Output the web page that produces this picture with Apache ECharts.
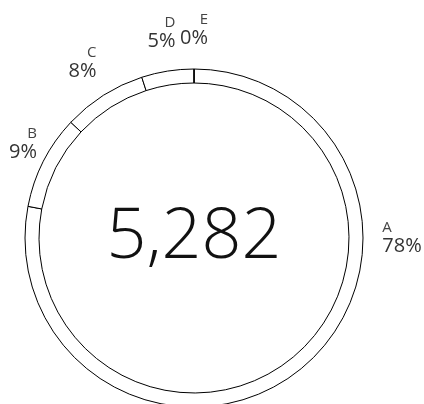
<!DOCTYPE html>
<html>
<head>
<meta charset="utf-8">
<style>
  html, body { margin: 0; padding: 0; background: #fff; }
  #chart { width: 424px; height: 404px; }
</style>
<script src="https://cdn.jsdelivr.net/npm/echarts@6/dist/echarts.min.js"></script>
</head>
<body>
<div id="chart"></div>
<script>
// Share of the total per category (percent)
const categories = ['A', 'B', 'C', 'D', 'E'];
const shares = [78, 9, 8, 5, 0];
const total = 5282;

// Ring geometry
const CX = 194, CY = 238;
const R_IN = 155, R_OUT = 169;
const LABEL_R = 208;
const VIEW_W = 424, EDGE_L = 9, EDGE_R = 2;

const shareSum = shares.reduce((a, b) => a + b, 0);

// Mid-angle of a slice, clockwise from 12 o'clock, in radians
function midAngle(i) {
  let before = 0;
  for (let k = 0; k < i; k++) before += shares[k];
  return (before + shares[i] / 2) / shareSum * Math.PI * 2;
}

const chart = echarts.init(document.getElementById('chart'), null, { renderer: 'canvas' });

chart.setOption({
  animation: false,
  backgroundColor: '#ffffff',
  textStyle: { fontFamily: '"Open Sans", "DejaVu Sans", sans-serif' },
  graphic: [{
    type: 'text',
    x: CX,
    y: CY,
    silent: true,
    style: {
      text: total.toLocaleString('en-US'),
      align: 'center',
      verticalAlign: 'middle',
      fontFamily: '"Open Sans", sans-serif',
      fontWeight: 300,
      fontSize: 70,
      fill: '#111111'
    }
  }],
  series: [{
    type: 'pie',
    center: [CX, CY],
    radius: [R_IN, R_OUT],
    startAngle: 90,
    clockwise: true,
    avoidLabelOverlap: false,
    stillShowZeroSum: true,
    emphasis: { disabled: true },
    itemStyle: { color: '#ffffff', borderColor: '#000000', borderWidth: 1 },
    labelLine: { show: false },
    label: {
      show: true,
      position: 'outside',
      formatter: p => '{n|' + p.name + '}\n{p|' + shares[p.dataIndex] + '%}',
      rich: {
        n: { fontSize: 15, lineHeight: 17, color: '#444444', fontFamily: '"Open Sans", sans-serif' },
        p: { fontSize: 20, lineHeight: 20, color: '#333333', fontFamily: '"Open Sans", sans-serif' }
      }
    },
    // Each label block is centred on a circle just outside the ring and kept
    // inside the canvas; labels of slices centred in the lower half move up
    // to the horizontal.
    labelLayout: function (p) {
      let a = midAngle(p.dataIndex);
      if (Math.cos(a) < 0) a = Math.sin(a) >= 0 ? Math.PI / 2 : Math.PI * 1.5;
      const w = p.labelRect.width;
      let bx = CX + LABEL_R * Math.sin(a);
      const by = CY - LABEL_R * Math.cos(a);
      bx = Math.min(Math.max(bx, EDGE_L + w / 2), VIEW_W - EDGE_R - w / 2);
      const onRight = Math.sin(a) > 1e-6;
      return {
        x: onRight ? bx - w / 2 : bx + w / 2,
        y: by,
        align: onRight ? 'left' : 'right',
        verticalAlign: 'middle'
      };
    },
    data: categories.map((name, i) => ({ name: name, value: shares[i] }))
  }]
});
</script>
</body>
</html>
